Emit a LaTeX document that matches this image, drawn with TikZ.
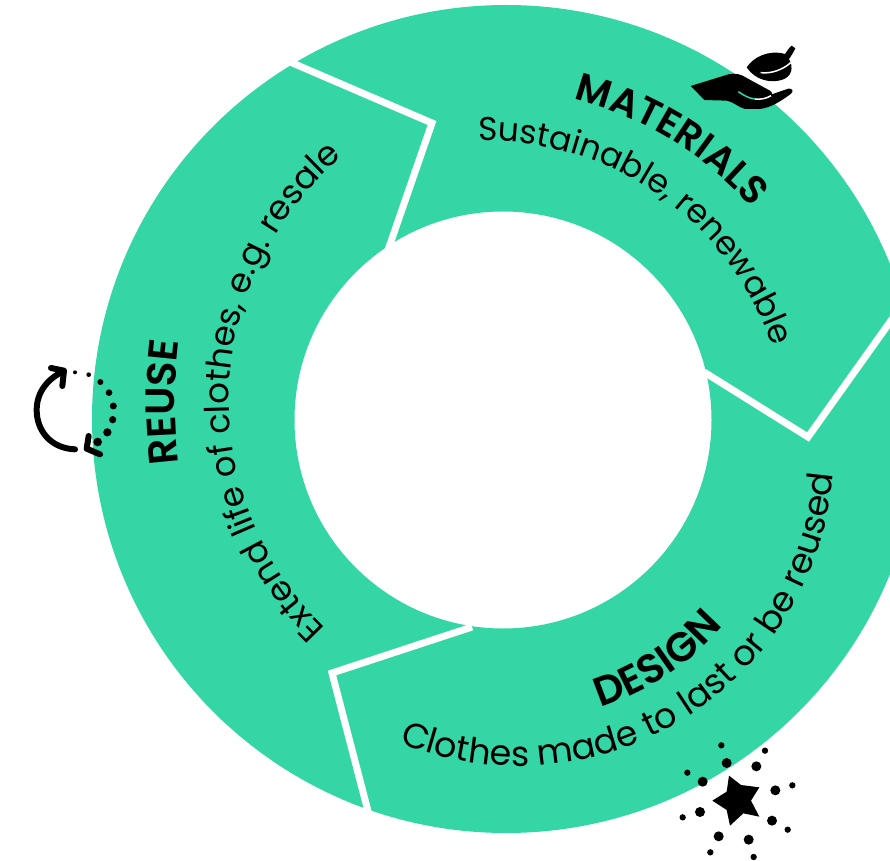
\documentclass[tikz,border=0pt]{standalone}
\usepackage{fontspec}
\setmainfont[BoldFont={Poppins SemiBold}]{Poppins}
\usetikzlibrary{decorations.text,arrows.meta}
\definecolor{ringgreen}{RGB}{52,214,165}
\newcommand{\bigfs}{\fontsize{39}{44}\selectfont\bfseries}
\newcommand{\widefs}{\fontsize{41}{46}\selectfont\bfseries}
\newcommand{\regfs}{\fontsize{34}{39}\selectfont}
\newcommand{\midfs}{\fontsize{33}{38}\selectfont}
\newcommand{\longfs}{\fontsize{35}{40}\selectfont}
\tikzset{
  x=1pt,y=1pt,
  divider/.style={draw=white,line width=7pt,miter limit=10,line join=miter},
  ink/.style={fill=black,draw=none},
  curved/.style={draw=black,line width=6pt,line cap=round,line join=round},
  arctext/.style={decorate,decoration={text along path,text align=center,text={#1}}}
}
\begin{document}
\begin{tikzpicture}
\useasboundingbox (0,0) rectangle (890,860);
\clip (0,0) rectangle (890,860);
\begin{scope}[shift={(0,860)},yscale=-1]
  % ring
  \fill[ringgreen,even odd rule] (506,419) circle[radius=414] (503,420) circle[radius=208.5];
  \draw[divider] (290,62) -- (432,123) -- (388,250);
  \draw[divider] (704,372) -- (808,437) -- (895,315);
  \draw[divider] (472,627) -- (332,673) -- (369,815);
  % hand and leaf
  \begin{scope}[shift={(660,30)},scale=1/3]
    \fill[ink] (92,168) -- (205,133) .. controls (225,128) and (245,133) .. (262,145)
      -- (330,182) .. controls (336,186) and (337,190) .. (335,193)
      -- (385,176) .. controls (398,174) and (402,184) .. (392,192)
      .. controls (365,212) and (335,232) .. (300,237)
      -- (255,237) .. controls (235,232) and (220,215) .. (200,212) -- (133,210) -- cycle;
    \draw[ringgreen,line width=1.5pt] (235,185) .. controls (250,195) and (265,205) .. (285,207);
    \draw[white,line width=1.5pt] (285,207) .. controls (305,209) and (320,205) .. (333,197);
    \fill[ink] (260,112) .. controls (280,82) and (325,58) .. (375,72)
      .. controls (382,62) and (388,52) .. (395,47) -- (406,55)
      .. controls (400,68) and (393,78) .. (387,87)
      .. controls (402,115) and (395,140) .. (365,150)
      .. controls (330,160) and (285,150) .. (260,112) -- cycle;
    \draw[white,line width=1.5pt] (302,128) .. controls (335,132) and (370,118) .. (392,98);
  \end{scope}
  % star and dots
  \begin{scope}[shift={(660,730)},scale=1/3]
    \fill[ink] (207,137) -- (243,165) -- (298,172) -- (273,212) -- (298,260) -- (250,250)
      -- (210,287) -- (200,240) -- (157,212) -- (200,185) -- cycle;
    \foreach \p in {(200,99),(128,155),(289,109),(346,181),(336,272),(266,329),(176,319),(120,246)}
      \fill[ink] \p circle[radius=15];
    \foreach \p in {(184,46),(82,128),(315,62),(397,166),(383,299),(281,381),(151,367),(68,262)}
      \fill[ink] \p circle[radius=9.5];
  \end{scope}
  % cycle arrow
  \begin{scope}[shift={(20,350)},scale=1/3]
    \draw[curved] (165,298) .. controls (90,295) and (50,240) .. (50,180)
      .. controls (50,125) and (85,85) .. (130,64);
    \draw[curved] (93,54) -- (132,62) -- (127,108);
    \draw[curved] (206,258) -- (200,296) -- (240,313);
    \foreach \p/\r in {(165,67)/6,(206,74)/7,(241,96)/9,(267,128)/10,(280,168)/10.5,(278,209)/11,(262,247)/12.5,(233,276)/13}
      \fill[ink] \p circle[radius=\r];
  \end{scope}
\end{scope}
% labels, each on its own arc
\begin{scope}[shift={(486,417)}]
  \path[arctext={|\bigfs|MATERIALS}] (118.6:355) arc[start angle=118.6,end angle=-1.4,radius=355];
  \path[arctext={|\midfs|Sustainable, renewable}] (115:302) arc[start angle=115,end angle=-5,radius=302];
\end{scope}
\begin{scope}[shift={(518,410)}]
  \path[arctext={|\widefs|DESIGN}] (-116.5:270) arc[start angle=-116.5,end angle=3.5,radius=270];
  \path[arctext={|\longfs|Clothes made to last or be reused}] (-138.2:316) arc[start angle=-138.2,end angle=21.8,radius=316];
\end{scope}
\path[arctext={|\widefs|REUSE},shift={(675,458)}] (205:500) arc[start angle=205,end angle=155,radius=500];
\path[arctext={|\regfs|Extend life of clothes, e.g. resale},shift={(546,460)}] (248:317) arc[start angle=248,end angle=108,radius=317];
\end{tikzpicture}
\end{document}
